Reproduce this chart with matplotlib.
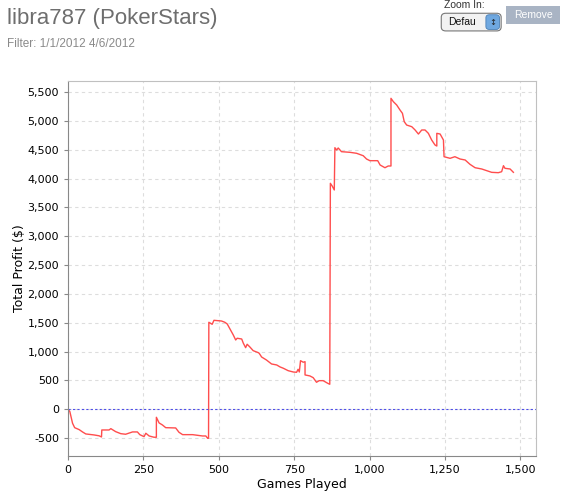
import matplotlib
matplotlib.use("Agg")
import matplotlib.pyplot as plt
from matplotlib.patches import FancyBboxPatch
from matplotlib.ticker import FuncFormatter, MultipleLocator

# cumulative profit (games played, profit in $)
games = [0, 6, 15, 22, 37, 48, 59, 86, 103, 111, 112, 136, 142, 158, 175, 191,
         214, 230, 238, 252, 258, 269, 285, 293, 293, 302, 313, 324, 357, 368,
         380, 413, 446, 457, 463, 466, 467, 478, 484, 509, 520, 528, 537, 548,
         556, 561, 576, 581, 589, 594, 603, 614, 631, 634, 642, 658, 675, 692,
         703, 714, 730, 747, 758, 763, 767, 771, 780, 786, 786, 802, 813, 824,
         833, 846, 855, 861, 868, 870, 876, 883, 885, 891, 896, 907, 935, 957,
         979, 990, 1001, 1027, 1035, 1051, 1062, 1071, 1071, 1079, 1090, 1101,
         1109, 1115, 1123, 1140, 1151, 1162, 1173, 1184, 1195, 1206, 1217, 1223,
         1223, 1234, 1245, 1247, 1267, 1283, 1300, 1317, 1333, 1350, 1372, 1389,
         1405, 1427, 1438, 1444, 1449, 1466, 1477]
profit = [0, -40, -243, -319, -353, -393, -428, -445, -460, -480, -359, -359,
          -336, -388, -423, -433, -393, -393, -440, -475, -416, -463, -485, -485,
          -139, -237, -272, -319, -324, -399, -440, -440, -463, -463, -503, -503,
          1508, 1473, 1542, 1530, 1508, 1478, 1392, 1288, 1201, 1231, 1218, 1149,
          1068, 1127, 1080, 1016, 981, 970, 906, 854, 785, 768, 734, 711, 669,
          646, 641, 693, 646, 842, 815, 825, 595, 578, 548, 468, 496, 496, 468,
          451, 433, 3917, 3870, 3801, 4534, 4494, 4529, 4465, 4454, 4437, 4395,
          4338, 4309, 4309, 4234, 4187, 4217, 4217, 5390, 5331, 5274, 5187, 5130,
          4985, 4927, 4898, 4841, 4771, 4841, 4841, 4783, 4667, 4581, 4563, 4783,
          4771, 4667, 4378, 4350, 4378, 4338, 4321, 4246, 4187, 4165, 4135, 4107,
          4101, 4118, 4222, 4177, 4165, 4107]

title = "libra787 (PokerStars)"
filter_text = "Filter: 1/1/2012 4/6/2012"

fig = plt.figure(figsize=(5.65, 4.91), dpi=100)
ax = fig.add_axes([0.1204, 0.0713, 0.8283, 0.7637])

ax.plot(games, profit, color="#ff4d4d", lw=1.0)
ax.axhline(0, color="#4f4fe8", lw=0.8, ls=(0, (2, 2)))

ax.set_xlim(0, 1552)
ax.set_ylim(-810, 5690)
ax.xaxis.set_major_locator(MultipleLocator(250))
ax.yaxis.set_major_locator(MultipleLocator(500))
fmt = FuncFormatter(lambda v, p: f"{int(v):,}")
ax.xaxis.set_major_formatter(fmt)
ax.yaxis.set_major_formatter(fmt)

ax.grid(True, color="#dddddd", ls=(0, (3, 3)), lw=0.8)
ax.set_axisbelow(True)
for s in ["top", "right"]:
    ax.spines[s].set_color("#c0c0c0")
for s in ["left", "bottom"]:
    ax.spines[s].set_color("#888888")
ax.tick_params(labelsize=8, length=3, color="#888888", direction="out")

ax.set_xlabel("Games Played", fontsize=9, labelpad=2)
ax.set_ylabel("Total Profit ($)", fontsize=9, labelpad=1)

# page header
fig.text(0.012, 0.963, title, fontsize=16, color="#6e6e6e",
         family="Liberation Sans", va="center")
fig.text(0.012, 0.91, filter_text, fontsize=8.5, color="#8a8a8a",
         family="Liberation Sans", va="center")

# zoom control and button
fig.text(0.785, 0.99, "Zoom In:", fontsize=7.5, color="#333333",
         family="Liberation Sans", va="center")
box = FancyBboxPatch((0.784, 0.94), 0.1, 0.03, boxstyle="round,pad=0.003,rounding_size=0.008",
                     transform=fig.transFigure, fc="#f2f2f2", ec="#777777", lw=0.8)
fig.patches.append(box)
fig.text(0.793, 0.955, "Defau", fontsize=7.5, color="#111111",
         family="Liberation Sans", va="center")
arrow = FancyBboxPatch((0.862, 0.942), 0.02, 0.026, boxstyle="round,pad=0.002,rounding_size=0.006",
                       transform=fig.transFigure, fc="#6fa8e0", ec="#4a7fb5", lw=0.6)
fig.patches.append(arrow)
fig.text(0.872, 0.955, "\u2195", fontsize=6, color="#222222", ha="center", va="center")
btn = plt.Rectangle((0.896, 0.952), 0.095, 0.035, transform=fig.transFigure,
                    fc="#a9b4c4", ec="none")
fig.patches.append(btn)
fig.text(0.9435, 0.969, "Remove", fontsize=7.5, color="white",
         family="Liberation Sans", ha="center", va="center")

fig.savefig("out.png", dpi=100)
